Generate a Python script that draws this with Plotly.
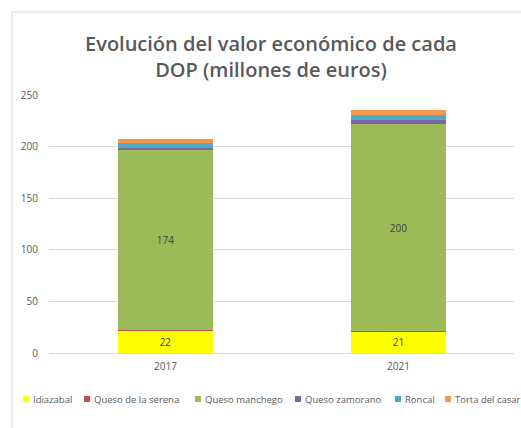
import plotly.graph_objects as go

years = ["2017", "2021"]
series_names = ["Idiazabal", "Queso de la serena", "Queso manchego", "Queso zamorano", "Roncal", "Torta del casar"]
idiazabal = [22, 21]
queso_serena = [0.5, 0.5]
queso_manchego = [174, 200]
queso_zamorano = [2.5, 3.9]
roncal = [4.3, 4.8]
torta_casar = [3.9, 4.8]
y_ticks = [0, 50, 100, 150, 200, 250]

values = [idiazabal, queso_serena, queso_manchego, queso_zamorano, roncal, torta_casar]
colors = ["#FFFF00", "#C0504D", "#9BBB59", "#8064A2", "#4BACC6", "#F79646"]
labelled = [True, False, True, False, False, False]

W, H = 521, 428
L, R, T, B = 49, 6, 95, 75
pw, ph = W - L - R, H - T - B

fig = go.Figure()
for name, vals, col, lab in zip(series_names, values, colors, labelled):
    fig.add_trace(go.Bar(
        x=years, y=vals, name=name, marker=dict(color=col, line=dict(width=0)),
        text=[f"{v:g}" for v in vals] if lab else None,
        textposition="inside" if lab else "none",
        insidetextanchor="middle",
        textfont=dict(family="Open Sans", size=10, color="#404040"),
        showlegend=False,
        hoverinfo="name+y",
    ))

def px2x(px):
    return (px - L) / pw

def py2y(py):
    return (H - B - py) / ph

shapes = []
annotations = []
# outer chart border (left and top)
shapes.append(dict(type="line", xref="paper", yref="paper",
                   x0=px2x(12), x1=px2x(12), y0=py2y(12), y1=py2y(H),
                   line=dict(color="#d9d9d9", width=1)))
shapes.append(dict(type="line", xref="paper", yref="paper",
                   x0=px2x(12), x1=px2x(W), y0=py2y(12), y1=py2y(12),
                   line=dict(color="#d9d9d9", width=1)))

# manual legend (single row along the bottom, like the reference)
legend_x = [23, 84, 195, 295, 395, 445]
ly = 399
for name, col, lx in zip(series_names, colors, legend_x):
    shapes.append(dict(type="rect", xref="paper", yref="paper",
                       x0=px2x(lx), x1=px2x(lx + 6), y0=py2y(ly + 3), y1=py2y(ly - 3),
                       fillcolor=col, line=dict(width=0)))
    annotations.append(dict(text=name, xref="paper", yref="paper",
                            x=px2x(lx + 8), y=py2y(ly), xanchor="left", yanchor="middle",
                            showarrow=False,
                            font=dict(family="Open Sans", size=9.5, color="#595959")))

fig.update_layout(
    width=W, height=H,
    margin=dict(l=L, r=R, t=T, b=B, pad=0),
    paper_bgcolor="white", plot_bgcolor="white",
    barmode="stack", bargap=0.59,
    title=dict(text="Evolución del valor económico de cada<br>DOP (millones de euros)",
               x=271 / W, xanchor="center", xref="container",
               y=1 - 51 / H, yanchor="middle", yref="container",
               font=dict(family="Open Sans", size=20, color="#595959", weight=600)),
    xaxis=dict(showgrid=False, showline=False, ticks="",
               tickfont=dict(family="Open Sans", size=10, color="#595959"),
               ticklabelstandoff=6),
    yaxis=dict(range=[0, 250], tickvals=y_ticks, showgrid=True, gridcolor="#d9d9d9",
               gridwidth=1, zeroline=True, zerolinecolor="#d9d9d9", zerolinewidth=1,
               showline=False, ticks="",
               tickfont=dict(family="Open Sans", size=10, color="#595959"),
               ticklabelstandoff=10),
    shapes=shapes, annotations=annotations,
    showlegend=False,
)

fig.write_html("out.html", config={"displayModeBar": False},
               post_script="document.body.style.margin='0';document.body.style.overflow='hidden';")
